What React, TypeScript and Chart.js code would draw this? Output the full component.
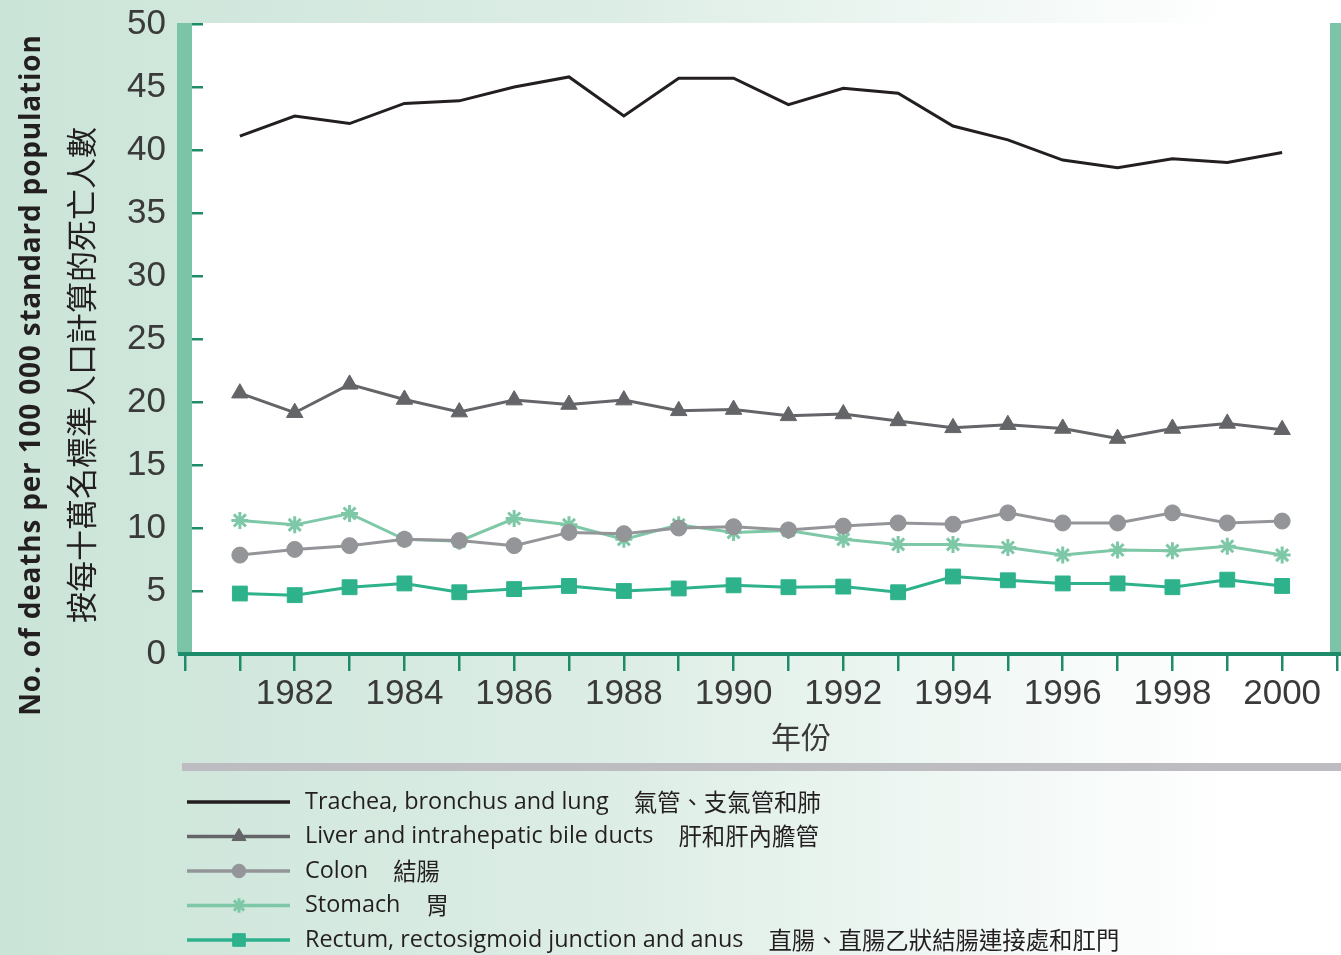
import React, { useEffect, useRef } from 'react';
import { Chart, registerables } from 'chart.js';
import { drawPoint } from 'chart.js/helpers';

Chart.register(...registerables);

const years = [1981, 1982, 1983, 1984, 1985, 1986, 1987, 1988, 1989, 1990, 1991, 1992, 1993, 1994, 1995, 1996, 1997, 1998, 1999, 2000];
const trachea = [41.1, 42.7, 42.1, 43.7, 43.9, 45.0, 45.8, 42.7, 45.7, 45.7, 43.6, 44.9, 44.5, 41.9, 40.8, 39.2, 38.6, 39.3, 39.0, 39.8];
const liver = [20.7, 19.15, 21.4, 20.2, 19.2, 20.15, 19.8, 20.15, 19.3, 19.4, 18.9, 19.05, 18.5, 17.95, 18.2, 17.9, 17.1, 17.9, 18.3, 17.8];
const colon = [7.85, 8.3, 8.6, 9.1, 9.0, 8.6, 9.65, 9.55, 10.0, 10.1, 9.85, 10.15, 10.4, 10.3, 11.2, 10.4, 10.4, 11.2, 10.4, 10.55];
const stomach = [10.6, 10.25, 11.15, 9.1, 8.95, 10.75, 10.25, 9.1, 10.25, 9.65, 9.8, 9.1, 8.7, 8.7, 8.45, 7.85, 8.25, 8.2, 8.55, 7.85];
const rectum = [4.8, 4.67, 5.3, 5.6, 4.9, 5.15, 5.4, 5.0, 5.2, 5.45, 5.3, 5.35, 4.9, 6.15, 5.85, 5.6, 5.6, 5.3, 5.9, 5.4];

const yTicks = [0, 5, 10, 15, 20, 25, 30, 35, 40, 45, 50];
const xLabelYears = [1982, 1984, 1986, 1988, 1990, 1992, 1994, 1996, 1998, 2000];
const xMin = 1980;
const xMax = 2001;

const seriesEn = [
  'Trachea, bronchus and lung',
  'Liver and intrahepatic bile ducts',
  'Colon',
  'Stomach',
  'Rectum, rectosigmoid junction and anus',
];
const seriesZh = ['氣管、支氣管和肺', '肝和肝內膽管', '結腸', '胃', '直腸、直腸乙狀結腸連接處和肛門'];
const seriesValues = [trachea, liver, colon, stomach, rectum];
const seriesColors = ['#231f20', '#646568', '#939598', '#7ec8a7', '#2db28c'];
const seriesPointStyles = ['circle', 'triangle', 'circle', 'star', 'rect'];
const seriesPointRadius = [0, 9.5, 8, 8.5, 10.5];

const yTitleEn = 'No. of deaths per 100 000 standard population';
const yTitleZh = '按每十萬名標準人口計算的死亡人數';
const xTitle = '年份';

const LIGHT_GREEN = '#7cc4a7';
const DARK_GREEN = '#1e8c6b';

const decoPlugin = {
  id: 'deco',
  beforeDraw(chart: any) {
    const { ctx, chartArea, width, height } = chart;
    ctx.save();
    const g = ctx.createLinearGradient(0, 0, width, 0);
    g.addColorStop(0, '#cbe4d8');
    g.addColorStop(0.45, '#dcede5');
    g.addColorStop(0.92, '#ffffff');
    g.addColorStop(1, '#ffffff');
    ctx.fillStyle = g;
    ctx.fillRect(0, 0, width, height);
    ctx.fillStyle = '#ffffff';
    ctx.fillRect(chartArea.left + 7, chartArea.top - 1, chartArea.right - 7 - (chartArea.left + 7), chartArea.bottom - chartArea.top);
    ctx.restore();
  },
  beforeDatasetsDraw(chart: any) {
    const { ctx, chartArea, width, scales } = chart;
    ctx.save();
    ctx.fillStyle = LIGHT_GREEN;
    ctx.fillRect(chartArea.left - 8, chartArea.top - 1, 15, chartArea.bottom - chartArea.top);
    ctx.fillRect(chartArea.right - 7, chartArea.top - 1, width - (chartArea.right - 7), chartArea.bottom - chartArea.top);
    // y tick marks inside the plot
    ctx.strokeStyle = DARK_GREEN;
    ctx.lineWidth = 2.5;
    const ys = scales.y;
    ys.ticks.forEach((t: any) => {
      const py = Math.round(ys.getPixelForValue(t.value)) + 0.25;
      ctx.beginPath();
      ctx.moveTo(chartArea.left + 7, py);
      ctx.lineTo(chartArea.left + 18, py);
      ctx.stroke();
    });
    // x axis line
    ctx.fillStyle = DARK_GREEN;
    ctx.fillRect(chartArea.left - 7, chartArea.bottom - 2, width, 4);
    ctx.restore();
  },
  afterDraw(chart: any) {
    const { ctx, width } = chart;
    ctx.save();
    // separator
    ctx.fillStyle = '#bdbdc1';
    ctx.fillRect(182, 763, width - 182, 8);

    // x title
    ctx.fillStyle = '#3a3a3a';
    ctx.font = '30px "Noto Sans CJK TC"';
    ctx.textAlign = 'center';
    ctx.textBaseline = 'middle';
    ctx.fillText(xTitle, 801, 737);

    // y titles (rotated)
    ctx.save();
    ctx.translate(32, 375);
    ctx.rotate(-Math.PI / 2);
    ctx.fillStyle = '#231f20';
    ctx.font = 'bold 28px "Open Sans"';
    (ctx as any).letterSpacing = '0.8px';
    ctx.textAlign = 'center';
    ctx.textBaseline = 'middle';
    ctx.fillText(yTitleEn, 0, 0);
    ctx.restore();

    ctx.save();
    ctx.translate(81, 375);
    ctx.rotate(-Math.PI / 2);
    ctx.fillStyle = '#231f20';
    ctx.font = '31px "Noto Sans CJK TC"';
    ctx.textAlign = 'center';
    ctx.textBaseline = 'middle';
    ctx.fillText(yTitleZh, 0, 0);
    ctx.restore();

    // legend
    chart.data.datasets.forEach((ds: any, i: number) => {
      const y = 802 + i * 34.5;
      ctx.strokeStyle = ds.borderColor;
      ctx.lineWidth = 3.5;
      ctx.beginPath();
      ctx.moveTo(187, y);
      ctx.lineTo(290, y);
      ctx.stroke();
      if (ds.pointRadius > 0) {
        ctx.fillStyle = ds.pointBackgroundColor;
        ctx.strokeStyle = ds.pointBorderColor;
        ctx.lineWidth = ds.pointBorderWidth;
        drawPoint(ctx, {
          pointStyle: ds.pointStyle,
          radius: ds.pointRadius * 0.85,
          rotation: 0,
          borderWidth: ds.pointBorderWidth,
        } as any, 239, y);
      }
      ctx.fillStyle = '#231f20';
      ctx.font = '23.4px "Open Sans"';
      ctx.textAlign = 'left';
      ctx.textBaseline = 'middle';
      ctx.fillText(seriesEn[i], 305, y);
      const w = ctx.measureText(seriesEn[i]).width;
      ctx.font = '23.4px "Noto Sans CJK TC"';
      ctx.fillText(seriesZh[i], 305 + w + 25, y);
    });
    ctx.restore();
  },
};

export default function App() {
  const ref = useRef<HTMLCanvasElement>(null);
  useEffect(() => {
    if (!ref.current) return;
    const datasets = seriesValues.map((vals, i) => ({
      label: seriesEn[i],
      data: vals.map((v, j) => ({ x: years[j], y: v })),
      borderColor: seriesColors[i],
      backgroundColor: seriesColors[i],
      pointBackgroundColor: seriesColors[i],
      pointBorderColor: seriesColors[i],
      pointBorderWidth: seriesPointStyles[i] === 'star' ? 3 : 1,
      pointStyle: seriesPointStyles[i],
      pointRadius: seriesPointRadius[i],
      borderWidth: 3,
      tension: 0,
      fill: false,
    }));
    const chart = new Chart(ref.current, {
      type: 'line',
      data: { datasets },
      plugins: [decoPlugin],
      options: {
        animation: false,
        responsive: false,
        devicePixelRatio: 1,
        layout: { autoPadding: false, padding: { top: 24, right: 4, bottom: 0, left: 0 } },
        plugins: { legend: { display: false }, tooltip: { enabled: false } },
        scales: {
          x: {
            type: 'linear',
            min: xMin,
            max: xMax,
            afterFit: (s: any) => { s.height = 955 - 654; s.paddingLeft = 0; s.paddingRight = 0; },
            afterBuildTicks: (s: any) => {
              const t = [];
              for (let v = xMin; v <= xMax; v++) t.push({ value: v });
              s.ticks = t;
            },
            ticks: {
              autoSkip: false,
              maxRotation: 0,
              padding: 2,
              color: '#3a3a3a',
              font: { family: '"Liberation Sans"', size: 35 },
              callback: (v: any) => (xLabelYears.includes(Number(v)) ? String(v) : ''),
            },
            grid: { drawOnChartArea: false, drawTicks: true, tickLength: 17, color: DARK_GREEN, lineWidth: 2.5 },
            border: { display: false },
          },
          y: {
            min: 0,
            max: 50,
            afterFit: (s: any) => { s.width = 185; s.paddingTop = 0; s.paddingBottom = 0; },
            afterBuildTicks: (s: any) => { s.ticks = yTicks.map((v) => ({ value: v })); },
            ticks: {
              padding: 19,
              color: '#3a3a3a',
              font: { family: '"Liberation Sans"', size: 35 },
            },
            grid: { display: false, drawTicks: false },
            border: { display: false },
          },
        },
      },
    });
    return () => chart.destroy();
  }, []);
  return (
    <div style={{ position: 'absolute', left: 0, top: 0, width: 1341, height: 955 }}>
      <canvas ref={ref} width={1341} height={955} style={{ display: 'block', width: 1341, height: 955 }} />
    </div>
  );
}
